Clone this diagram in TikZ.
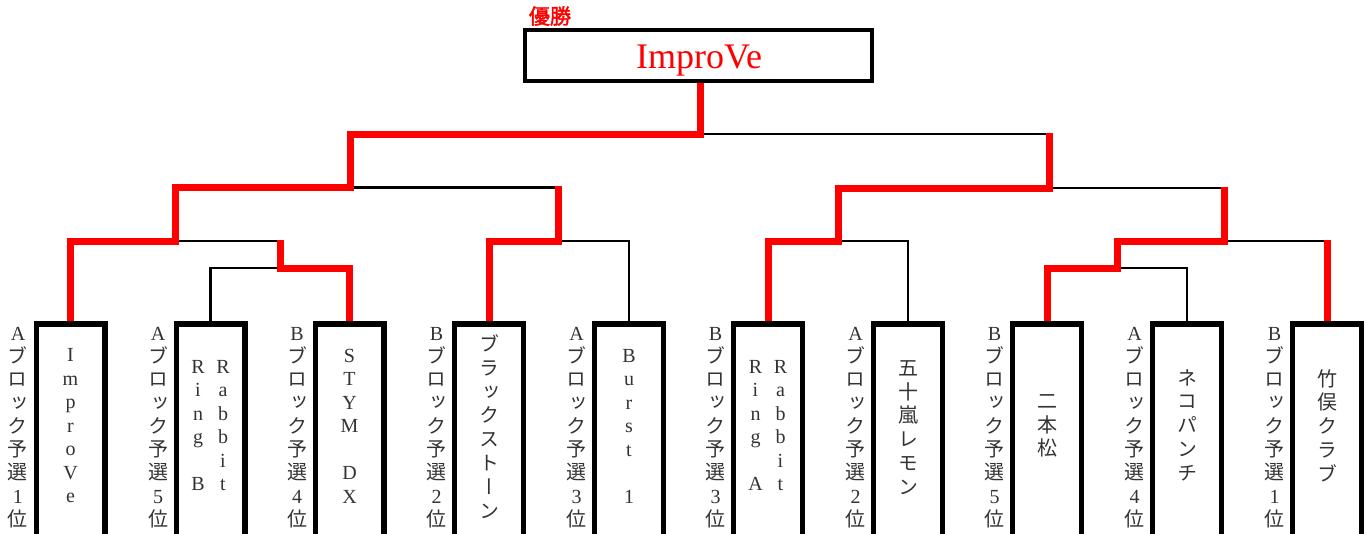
\documentclass[tikz,border=0pt]{standalone}
\usepackage{fontspec}
\setmainfont{Liberation Serif}
\newfontfamily\jp{Noto Sans CJK JP}[RawFeature=+vert, AutoFakeBold=2]
\newcommand\ltn[1]{{\rmfamily #1}}
\begin{document}
\begin{tikzpicture}[x=1pt,y=-1pt,
  tbox/.style={draw, line width=3.5pt, minimum width=67pt, minimum height=240pt, anchor=north, inner sep=0pt},
  topbox/.style={draw, line width=3.2pt, minimum width=345.5pt, minimum height=49.5pt, inner sep=0pt},
  bk/.style={line width=2.8pt, black},
  rd/.style={line width=7pt, red},
  lab/.style={font=\fontsize{20}{23.3}\selectfont\jp, align=center, inner sep=0pt, text=black!80},
  lat/.style={font=\fontsize{20}{23.5}\selectfont\rmfamily, align=center, inner sep=0pt, text=black!80},
  jin/.style={font=\fontsize{20}{23.8}\selectfont\jp, align=center, inner sep=0pt, text=black!80}
]
\useasboundingbox (0,0) rectangle (1367,533);
\clip (0,0) rectangle (1367,533);

% team boxes
\foreach \i/\c in {1/70.5,2/210.5,3/349.5,4/489,5/629,6/768,7/908,8/1047,9/1187,10/1327}{
  \node[tbox] (t\i) at (\c,323) {};
}
\node[topbox] (top) at (698.5,55.5) {};

% junctions
\coordinate (jA) at (280,268);
\coordinate (jB) at (175,241);
\coordinate (jC) at (558.5,241);
\coordinate (jD) at (350,187.5);
\coordinate (jE) at (838,241);
\coordinate (jF) at (1117.5,268);
\coordinate (jG) at (1224,241);
\coordinate (jH) at (1049,188);
\coordinate (jI) at (700,134);

% black bracket
\draw[bk] (t2.north) |- (jA) -| (t3.north);
\draw[bk] (t1.north) |- (jB) -| (jA);
\draw[bk] (t4.north) |- (jC) -| (t5.north);
\draw[bk] (jB) |- (jD) -| (jC);
\draw[bk] (t6.north) |- (jE) -| (t7.north);
\draw[bk] (t8.north) |- (jF) -| (t9.north);
\draw[bk] (jF) |- (jG) -| (t10.north);
\draw[bk] (jE) |- (jH) -| (jG);
\draw[bk] (jD) |- (jI) -| (jH);
\draw[bk] (jI) -- (jI |- top.south);

% red winner paths
\draw[rd] (t1.north) |- (jB) |- (jD) |- (jI) -- (jI |- top.south);
\draw[rd, shorten >=-1.5pt] (t3.north) |- (jA) -- (jA |- jB);
\draw[rd, shorten >=-1.5pt] (t4.north) |- (jC) -- (jC |- jD);
\draw[rd, shorten >=-1.5pt] (t6.north) |- (jE) |- (jH) -- (jH |- jI);
\draw[rd, shorten >=-1.5pt] (t8.north) |- (jF) |- (jG) -- (jG |- jH);
\draw[rd, shorten >=-1.5pt] (t10.north) -- (t10.north |- jG);

% redraw boxes on top
\foreach \i in {1,...,10}{ \draw[line width=3.5pt] (t\i.north west) rectangle (t\i.south east); }
\draw[line width=3.2pt] (top.north west) rectangle (top.south east);

% champion
\node[font=\fontsize{21}{21}\selectfont\jp\bfseries, text=red, inner sep=0pt] (win) at (550,16) {優勝};
\node[font=\fontsize{36}{36}\selectfont\rmfamily, text=red, inner sep=0pt, anchor=base] (champ) at (699,68) {ImproVe};

% side labels
\node[lab] (l1) at (18,427.5) {\ltn{A}\\ブ\\ロ\\ッ\\ク\\予\\選\\\ltn{1}\\位};
\node[lab] (l2) at (158,427.5) {\ltn{A}\\ブ\\ロ\\ッ\\ク\\予\\選\\\ltn{5}\\位};
\node[lab] (l3) at (297,427.5) {\ltn{B}\\ブ\\ロ\\ッ\\ク\\予\\選\\\ltn{4}\\位};
\node[lab] (l4) at (436.5,427.5) {\ltn{B}\\ブ\\ロ\\ッ\\ク\\予\\選\\\ltn{2}\\位};
\node[lab] (l5) at (576.5,427.5) {\ltn{A}\\ブ\\ロ\\ッ\\ク\\予\\選\\\ltn{3}\\位};
\node[lab] (l6) at (715.5,427.5) {\ltn{B}\\ブ\\ロ\\ッ\\ク\\予\\選\\\ltn{3}\\位};
\node[lab] (l7) at (855.5,427.5) {\ltn{A}\\ブ\\ロ\\ッ\\ク\\予\\選\\\ltn{2}\\位};
\node[lab] (l8) at (994.5,427.5) {\ltn{B}\\ブ\\ロ\\ッ\\ク\\予\\選\\\ltn{5}\\位};
\node[lab] (l9) at (1134.5,427.5) {\ltn{A}\\ブ\\ロ\\ッ\\ク\\予\\選\\\ltn{4}\\位};
\node[lab] (l10) at (1274.5,427.5) {\ltn{B}\\ブ\\ロ\\ッ\\ク\\予\\選\\\ltn{1}\\位};

% team names
\node[lat] (n1) at (70.5,426) {I\\m\\p\\r\\o\\V\\e};
\node[lat] (n2a) at (198,425.5) {R\\i\\n\\g\\\mbox{}\\B};
\node[lat] (n2b) at (223,425.5) {R\\a\\b\\b\\i\\t};
\node[lat] (n3) at (349.5,426) {S\\T\\Y\\M\\\mbox{}\\D\\X};
\node[jin] (n4) at (489,426.5) {ブ\\ラ\\ッ\\ク\\ス\\ト\\ー\\ン};
\node[lat] (n5) at (629,426) {B\\u\\r\\s\\t\\\mbox{}\\1};
\node[lat] (n6a) at (755.5,425.5) {R\\i\\n\\g\\\mbox{}\\A};
\node[lat] (n6b) at (780.5,425.5) {R\\a\\b\\b\\i\\t};
\node[jin] (n7) at (908,427.5) {五\\十\\嵐\\レ\\モ\\ン};
\node[jin] (n8) at (1047,426) {二\\本\\松};
\node[jin] (n9) at (1187,425) {ネ\\コ\\パ\\ン\\チ};
\node[jin] (n10) at (1327,425.5) {竹\\俣\\ク\\ラ\\ブ};
\end{tikzpicture}
\end{document}
